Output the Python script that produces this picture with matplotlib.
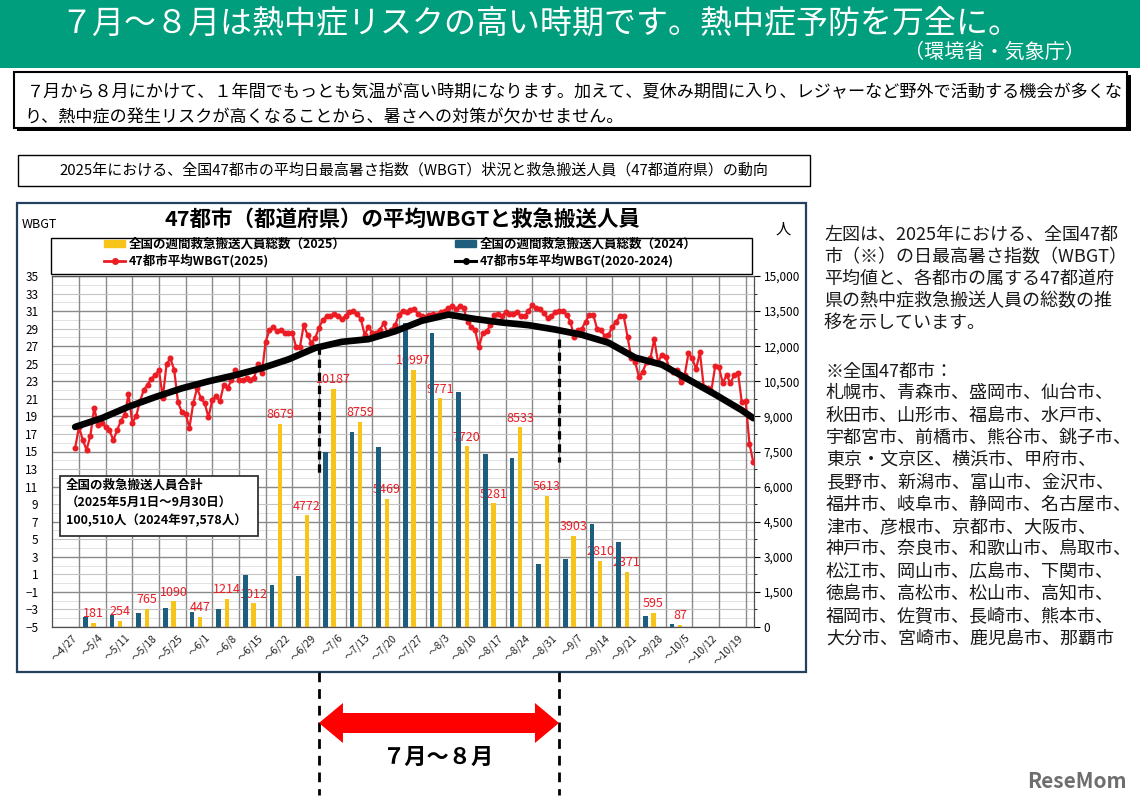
import numpy as np
import pandas as pd
import matplotlib
matplotlib.use('Agg')
import matplotlib.pyplot as plt
from matplotlib.patches import Rectangle, Polygon, Patch
from matplotlib.lines import Line2D
from matplotlib.ticker import FixedLocator, MultipleLocator, FuncFormatter

plt.rcParams['font.family'] = ['Noto Sans CJK JP', 'DejaVu Sans']

# ---- data ----
week_ends = ['4/27', '5/4', '5/11', '5/18', '5/25', '6/1', '6/8', '6/15', '6/22', '6/29',
             '7/6', '7/13', '7/20', '7/27', '8/3', '8/10', '8/17', '8/24', '8/31',
             '9/7', '9/14', '9/21', '9/28', '10/5', '10/12', '10/19']
cases_2025 = [0, 181, 254, 765, 1090, 447, 1214, 1012, 8679, 4772, 10187, 8759, 5469,
              10997, 9771, 7720, 5281, 8533, 5613, 3903, 2810, 2371, 595, 87, 0, 0]
cases_2024 = [0, 414, 513, 611, 826, 655, 755, 2222, 1795, 2194, 7493, 8319, 7707,
              13000, 12550, 10050, 7390, 7210, 2680, 2890, 4400, 3620, 484, 128, 0, 0]

# daily 47-city mean WBGT 2025, from 4/27
wbgt_2025_start = '2025-04-27'
wbgt_2025 = [15.4, 17.8, 16.3, 15.2, 16.8, 20.0, 18.0, 18.3, 17.8, 17.4,
             16.3, 17.4, 18.5, 19.2, 21.5, 18.3, 19.0, 20.7, 22.0, 22.6,
             23.3, 23.7, 24.3, 21.1, 25.0, 25.6, 24.3, 20.6, 19.5, 19.3,
             17.7, 20.5, 22.2, 21.1, 20.5, 18.9, 20.9, 21.3, 20.7, 22.6,
             22.2, 23.1, 24.3, 23.2, 23.1, 23.4, 23.2, 23.4, 25.0, 23.9,
             27.5, 28.8, 29.2, 28.7, 28.8, 28.5, 28.5, 28.5, 26.9, 26.9,
             29.4, 28.3, 27.4, 27.9, 29.1, 30.0, 30.4, 30.4, 30.7, 30.4,
             30.1, 30.4, 30.9, 31.0, 30.7, 30.1, 28.3, 29.2, 28.5, 28.5,
             28.9, 29.6, 28.5, 28.9, 29.4, 30.6, 31.0, 30.9, 31.1, 31.2,
             30.7, 30.4, 30.3, 30.6, 30.7, 30.6, 30.9, 31.0, 31.3, 31.6,
             31.2, 31.6, 31.3, 29.8, 29.2, 28.8, 26.9, 28.5, 28.7, 29.4,
             30.6, 30.7, 30.4, 30.9, 30.7, 30.7, 30.9, 30.4, 30.4, 31.0,
             31.7, 31.3, 31.2, 30.8, 30.2, 30.4, 30.9, 31.0, 31.0, 30.6,
             29.8,
             28.0, 28.9, 29.0, 29.8, 30.6, 30.6, 29.0, 28.8, 28.2, 28.3,
             29.2, 29.8, 30.4, 30.4, 28.1, 25.6, 25.2, 23.5, 24.1, 25.2,
             25.6, 27.8, 25.2, 26.0, 25.8, 24.5, 24.1, 24.3, 22.9, 23.7,
             26.2, 25.6, 24.4, 26.3, 22.4, 22.2, 21.9, 24.7, 24.6, 22.8,
             23.7, 22.8, 23.7, 24.0, 20.6, 20.8, 15.9, 13.8]

# 5-year (2020-2024) mean WBGT, read weekly
avg_dates = week_ends + ['10/22']
wbgt_avg = [17.8, 18.8, 20.1, 21.2, 22.2, 23.0, 23.7, 24.5, 25.5, 26.8, 27.5, 27.8,
            28.7, 29.9, 30.6, 30.1, 29.7, 29.4, 28.9, 28.3, 27.4, 25.7, 24.9, 23.2,
            21.5, 19.7, 18.8]

july_week, aug_last_week = 10, 18

title = '７月～８月は熱中症リスクの高い時期です。熱中症予防を万全に。'
source = '（環境省・気象庁）'
intro = ['７月から８月にかけて、１年間でもっとも気温が高い時期になります。加えて、夏休み期間に入り、レジャーなど野外で活動する機会が多くな',
         'り、熱中症の発生リスクが高くなることから、暑さへの対策が欠かせません。']
caption = '2025年における、全国47都市の平均日最高暑さ指数（WBGT）状況と救急搬送人員（47都道府県）の動向'
chart_title = '47都市（都道府県）の平均WBGTと救急搬送人員'
total_note = '全国の救急搬送人員合計\n（2025年5月1日～9月30日）\n100,510人（2024年97,578人）'
side_text = ['左図は、2025年における、全国47都', '市（※）の日最高暑さ指数（WBGT）',
             '平均値と、各都市の属する47都道府', '県の熱中症救急搬送人員の総数の推',
             '移を示しています。']
city_head = '※全国47都市：'
city_lines = ['札幌市、青森市、盛岡市、仙台市、', '秋田市、山形市、福島市、水戸市、',
              '宇都宮市、前橋市、熊谷市、銚子市、', '東京・文京区、横浜市、甲府市、',
              '長野市、新潟市、富山市、金沢市、', '福井市、岐阜市、静岡市、名古屋市、',
              '津市、彦根市、京都市、大阪市、', '神戸市、奈良市、和歌山市、鳥取市、',
              '松江市、岡山市、広島市、下関市、', '徳島市、高松市、松山市、高知市、',
              '福岡市、佐賀市、長崎市、熊本市、', '大分市、宮崎市、鹿児島市、那覇市']

GREEN = '#009E7C'
YELLOW = '#F7C41A'
BLUE = '#1D5E7F'
RED = '#EC1C24'

W, H = 1140, 805


def fx(x):
    return x / W


def fy(y):
    return 1 - y / H


base = pd.Timestamp('2025-04-21')
day_2025 = (pd.date_range(wbgt_2025_start, periods=len(wbgt_2025)) - base).days
day_avg = [(pd.Timestamp('2025/' + d) - base).days for d in avg_dates]
slot = np.arange(len(week_ends)) * 7

fig = plt.figure(figsize=(11.4, 8.05), dpi=100)

# ---- chart axes: bars on ax (persons, right), lines on ax2 (WBGT, left)
ax = fig.add_axes([fx(52.3), fy(627), (754 - 52.3) / W, (627 - 276) / H])
ax.set_xlim(0, 184.2)
ax.set_ylim(0, 15000)
ax.set_axisbelow(True)

ax.bar(slot + 3.8, cases_2025, width=1.1, color=YELLOW, zorder=2)
ax.bar(slot + 1.7, cases_2024, width=1.25, color=BLUE, zorder=3)
for x, v in zip(slot + 3.8, cases_2025):
    if v:
        ax.annotate(str(v), (x, v), xytext=(0, 2), textcoords='offset points',
                    ha='center', va='bottom', color=RED, fontsize=9, zorder=2.5)

ax.grid(axis='y', which='major', color='#8a8a8a', lw=1.0)
ax.grid(axis='y', which='minor', color='#c4c4c4', lw=0.8)
for v in np.arange(375, 15000, 750):
    ax.axhline(v, color='#e2e2e2', lw=0.7, zorder=0.3)
ax.xaxis.set_minor_locator(FixedLocator(np.arange(7, 184, 7)))
ax.grid(axis='x', which='minor', color='#8a8a8a', lw=1.0)
ax.set_xticks(slot + 5)
ax.set_xticklabels(['～' + w for w in week_ends], rotation=45, ha='right',
                   rotation_mode='anchor', fontsize=7.5, color='#222')
ax.tick_params(axis='x', which='both', length=0, pad=4)
for s in ax.spines.values():
    s.set_visible(False)

ax2 = ax.twinx()
ax2.set_ylim(-5, 35)
ax2.set_yticks(np.arange(-5, 36, 2))
ax2.plot(day_2025, wbgt_2025, color=RED, lw=1.6, marker='o', ms=3.3, zorder=4)
ax2.plot(day_avg, wbgt_avg, color='black', lw=4.8, solid_capstyle='round', zorder=5)
ax2.plot([july_week * 7] * 2, [27.0, 12.2], color='black', lw=2.3, ls=(0, (2.6, 1.5)), zorder=6)
ax2.plot([(aug_last_week + 1) * 7] * 2, [27.8, 13.8], color='black', lw=2.3, ls=(0, (2.6, 1.5)), zorder=6)
for s in ax2.spines.values():
    s.set_color('#505050')
    s.set_linewidth(0.9)

# swap sides: WBGT on the left, persons on the right
ax2.yaxis.tick_left()
ax2.tick_params(axis='y', length=0, labelsize=8.5, pad=10)
ax.yaxis.tick_right()
ax.set_yticks(np.arange(0, 15001, 1500))
ax.yaxis.set_minor_locator(MultipleLocator(750))
ax.yaxis.set_major_formatter(FuncFormatter(lambda v, p: f'{int(v):,}'))
ax.tick_params(axis='y', which='major', length=4, labelsize=8.5, pad=3,
               left=False, labelleft=False, right=True, labelright=True)
ax.tick_params(axis='y', which='minor', length=2.5, left=False, right=True)

# ---- chart decorations
fig.add_artist(Rectangle((fx(17), fy(672)), (806 - 17) / W, (672 - 203) / H, transform=fig.transFigure,
                         fill=False, ec='#23405F', lw=1.6, zorder=1))
fig.text(fx(402), fy(219), chart_title, ha='center', va='center', fontsize=15.5, weight='bold')
fig.text(fx(22), fy(224), 'WBGT', ha='left', va='center', fontsize=9)
fig.text(fx(783), fy(229), '人', ha='center', va='center', fontsize=11)

fig.add_artist(Rectangle((fx(51), fy(274)), (752 - 51) / W, 36 / H, transform=fig.transFigure,
                         fc='white', ec='black', lw=1, zorder=1))
h_y = Patch(color=YELLOW)
h_b = Patch(color=BLUE)
h_r = Line2D([], [], color=RED, lw=2, marker='o', ms=4)
h_k = Line2D([], [], color='black', lw=2.2, marker='o', ms=4)
leg_kw = dict(loc='upper left', frameon=False, prop=dict(size=9, weight='bold'),
              handlelength=1.7, handleheight=0.55, handletextpad=0.3, labelspacing=0.25,
              borderpad=0, borderaxespad=0)
fig.legend([h_y, h_r], ['全国の週間救急搬送人員総数（2025）', '47都市平均WBGT(2025)'],
           bbox_to_anchor=(fx(104), fy(238)), **leg_kw)
fig.legend([h_b, h_k], ['全国の週間救急搬送人員総数（2024）', '47都市5年平均WBGT(2020-2024)'],
           bbox_to_anchor=(fx(455), fy(238)), **leg_kw)

fig.add_artist(Rectangle((fx(60), fy(536)), (258 - 60) / W, 60 / H, transform=fig.transFigure,
                         fc='white', ec='#333333', lw=1.3, zorder=1))
fig.text(fx(66), fy(479), total_note, ha='left', va='top', fontsize=9, weight='bold',
         linespacing=1.45)

# ---- banner and text boxes
fig.add_artist(Rectangle((0, fy(68)), 1, 68 / H, transform=fig.transFigure, fc=GREEN, ec='none', zorder=1))
fig.text(fx(60), fy(24), title, color='white', fontsize=23, ha='left', va='center')
fig.text(fx(1085), fy(52), source, color='white', fontsize=14.5, ha='right', va='center')

fig.add_artist(Rectangle((fx(17), fy(131)), (1131 - 17) / W, 56 / H, transform=fig.transFigure,
                         fc='black', ec='black', lw=0, zorder=1))
fig.add_artist(Rectangle((fx(14), fy(128)), (1127 - 14) / W, 56 / H, transform=fig.transFigure,
                         fc='white', ec='black', lw=1.5, zorder=1))
fig.text(fx(27), fy(92), intro[0], fontsize=12.3, ha='left', va='center')
fig.text(fx(24), fy(117), intro[1], fontsize=12.3, ha='left', va='center')

fig.add_artist(Rectangle((fx(18), fy(186)), (810 - 18) / W, 31 / H, transform=fig.transFigure,
                         fc='white', ec='black', lw=1, zorder=1))
fig.text(fx(414), fy(170.5), caption, fontsize=10.8, ha='center', va='center')

for i, line in enumerate(side_text):
    fig.text(fx(824), fy(235 + 22 * i), line, fontsize=13, ha='left', va='center', color='#1a1a1a')
fig.text(fx(826), fy(372), city_head, fontsize=13, ha='left', va='center', color='#1a1a1a')
for i, line in enumerate(city_lines):
    fig.text(fx(826), fy(393 + 22.3 * i), line, fontsize=13, ha='left', va='center', color='#1a1a1a')

# ---- July-August arrow under the chart, aligned with the dashed lines
to_fig = ax.transData + fig.transFigure.inverted()
xa = to_fig.transform((july_week * 7, 0))[0]
xb = to_fig.transform(((aug_last_week + 1) * 7, 0))[0]
for xx in (xa, xb):
    fig.add_artist(Line2D([xx, xx], [fy(672), fy(795)], transform=fig.transFigure,
                          color='black', lw=2, ls=(0, (3.5, 2.5))))
yc, sh, hh, hl = fy(723), 10 / H, 20 / H, 24 / W
arrow = Polygon([(xa, yc), (xa + hl, yc + hh), (xa + hl, yc + sh), (xb - hl, yc + sh),
                 (xb - hl, yc + hh), (xb, yc), (xb - hl, yc - hh), (xb - hl, yc - sh),
                 (xa + hl, yc - sh), (xa + hl, yc - hh)], closed=True,
                transform=fig.transFigure, fc='#FF0000', ec='none', zorder=2)
fig.add_artist(arrow)
fig.text((xa + xb) / 2, fy(757), '７月～８月', fontsize=16, weight='bold', ha='center', va='center')

fig.text(fx(1127), fy(781), 'ReseMom', fontsize=15, weight='bold', color='#6e6e6e',
         ha='right', va='center')

fig.savefig('out.png', dpi=100)
